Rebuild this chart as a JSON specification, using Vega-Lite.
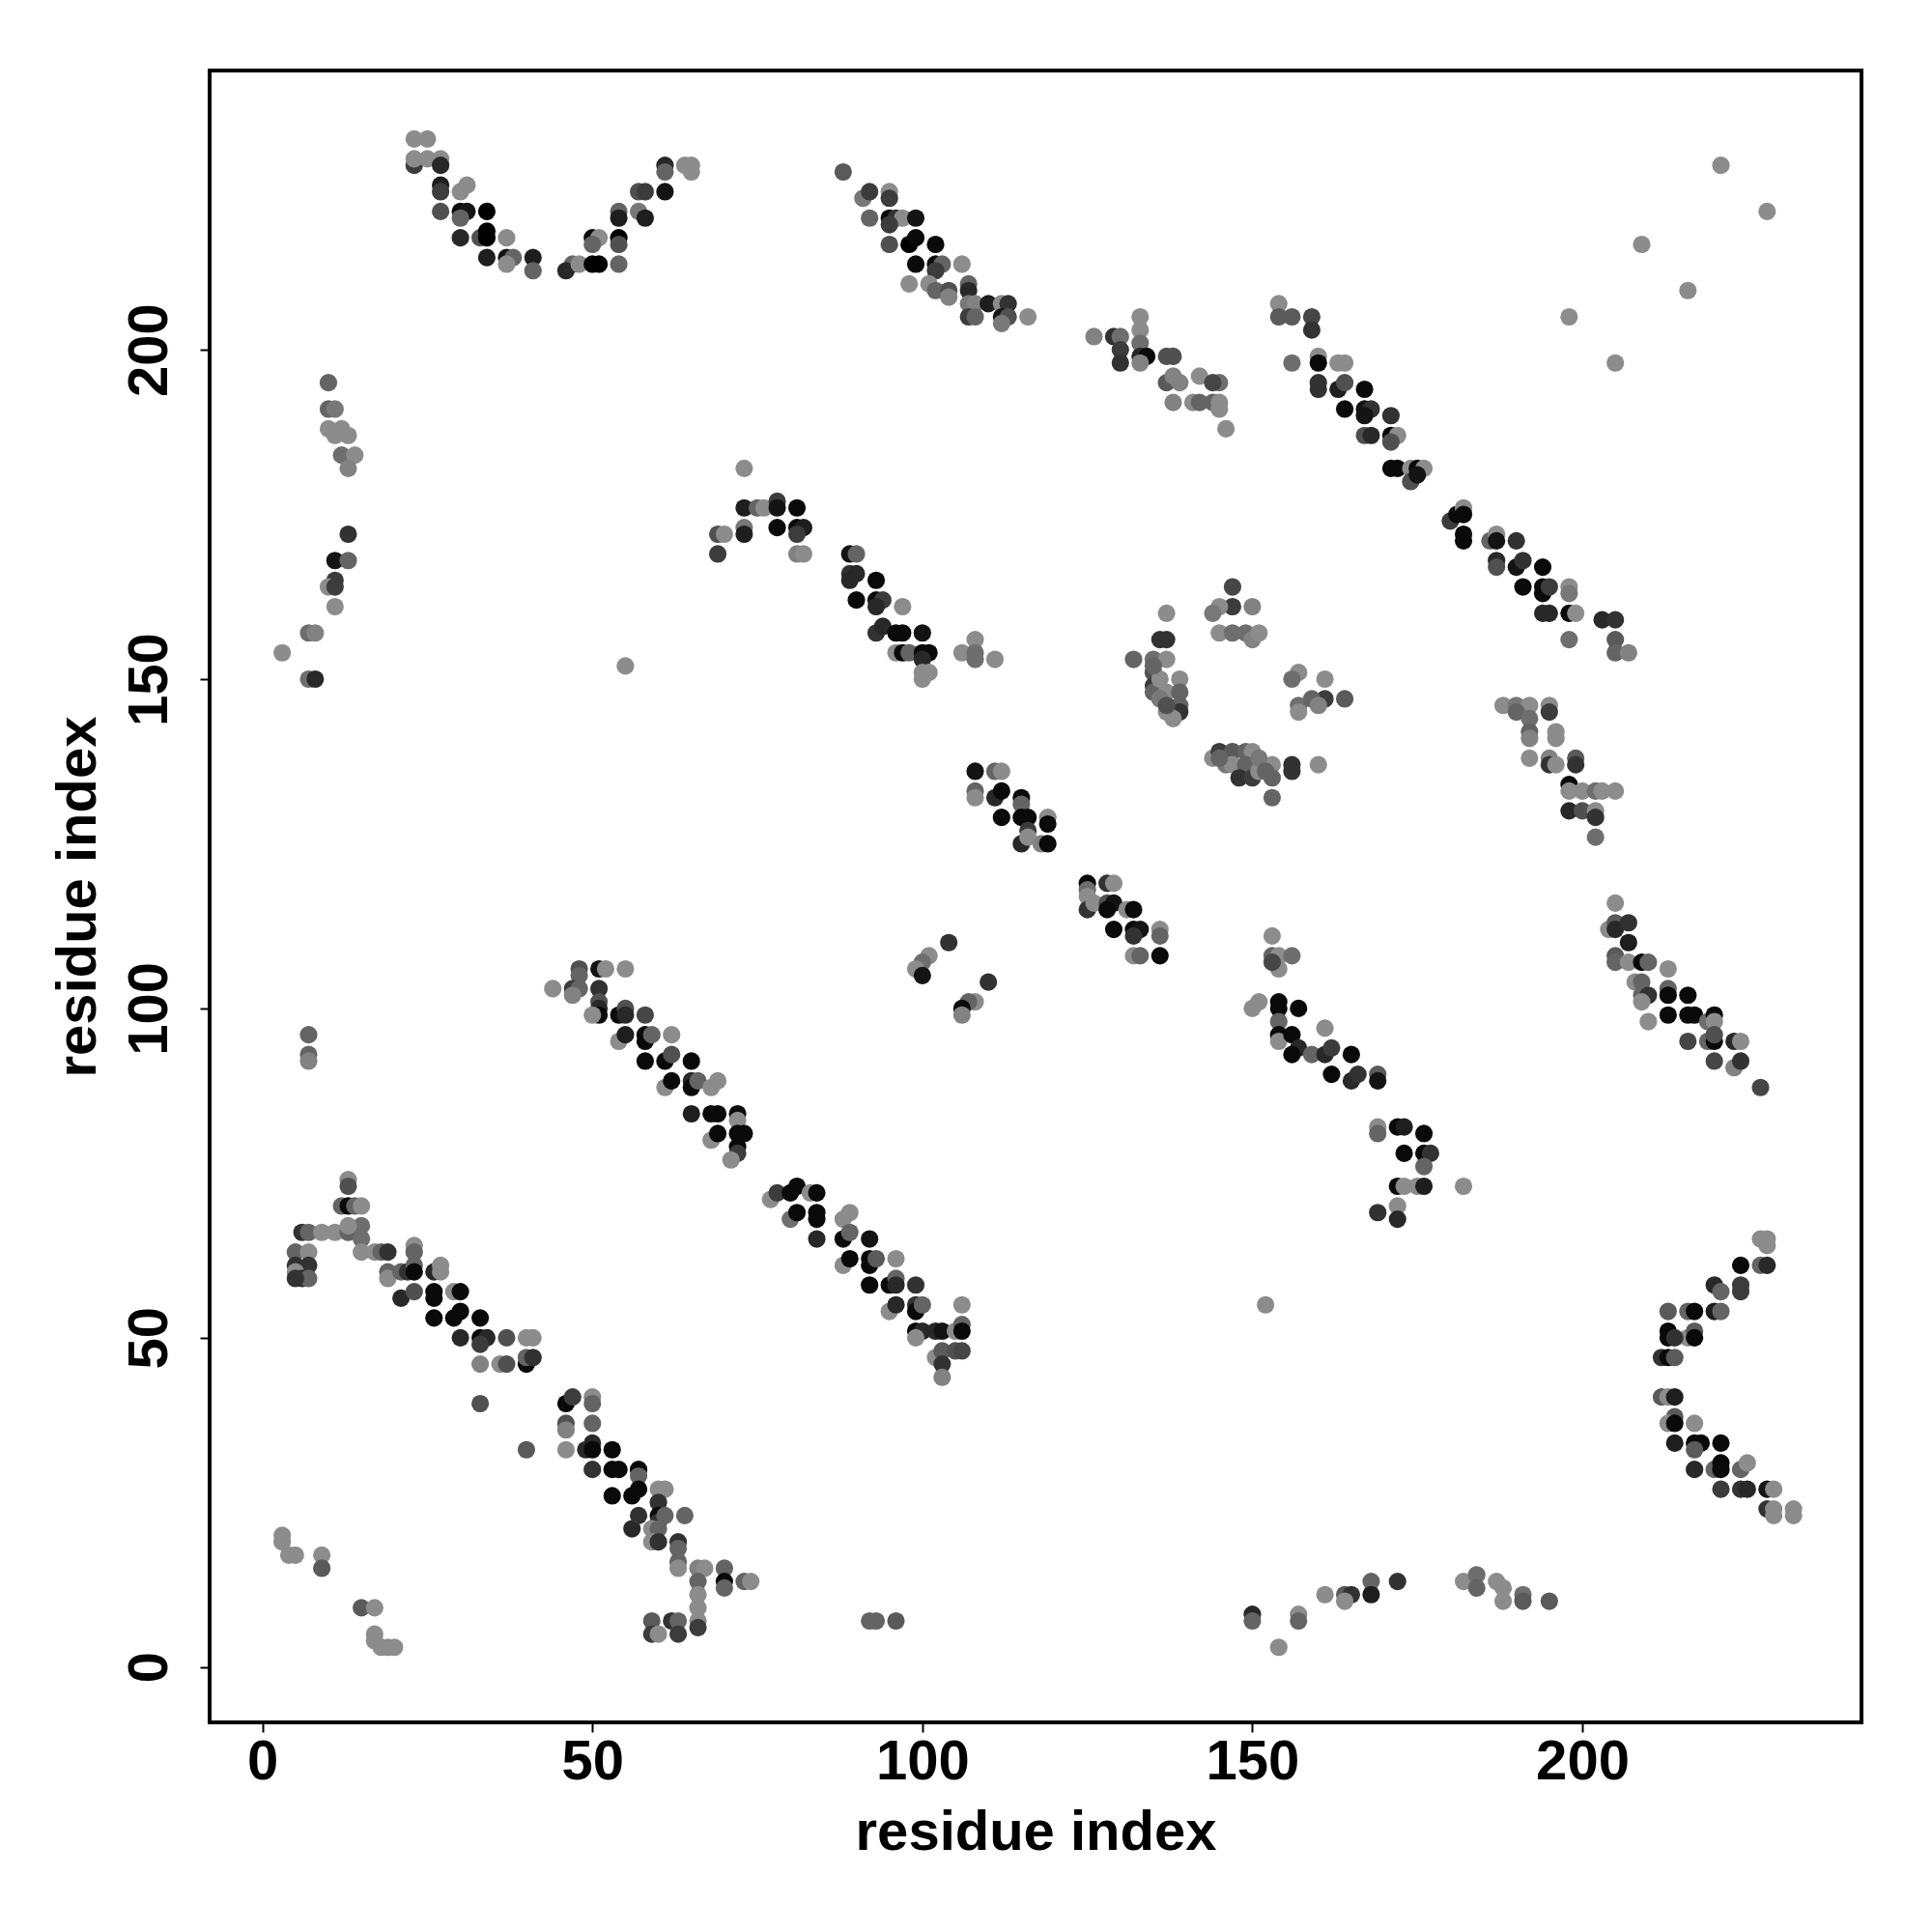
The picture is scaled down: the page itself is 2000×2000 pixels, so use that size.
{
"$schema": "https://vega.github.io/schema/vega-lite/v6.json",
"width": 1710, "height": 1710,
"autosize": {"type": "none"},
"padding": {"left": 217, "top": 73, "right": 73, "bottom": 217},
"background": "white",
"config": {"view": {"stroke": "black", "strokeWidth": 4}, "font": "Liberation Sans"},
"data": {"values": [
{"x":23,"y":232,"p":0.2},{"x":25,"y":232,"p":0.2},{"x":23,"y":228,"p":0.7},{"x":23,"y":229,"p":0.25},{"x":25,"y":229,"p":0.25},{"x":27,"y":229,"p":0.3},{"x":27,"y":228,"p":0.8},
{"x":27,"y":225,"p":0.85},{"x":27,"y":224,"p":0.7},{"x":31,"y":225,"p":0.2},{"x":30,"y":224,"p":0.3},
{"x":27,"y":221,"p":0.6},{"x":30,"y":221,"p":0.95},{"x":31,"y":221,"p":0.9},{"x":34,"y":221,"p":1},{"x":30,"y":220,"p":0.5},
{"x":30,"y":217,"p":0.8},{"x":33,"y":217,"p":0.6},{"x":34,"y":218,"p":1},{"x":34,"y":217,"p":1},{"x":37,"y":217,"p":0.3},
{"x":34,"y":214,"p":0.85},{"x":37,"y":214,"p":0.9},{"x":38,"y":214,"p":0.5},{"x":41,"y":214,"p":0.85},{"x":41,"y":212,"p":0.5},{"x":37,"y":213,"p":0.3},
{"x":47,"y":213,"p":0.5},{"x":46,"y":212,"p":0.8},{"x":48,"y":213,"p":0.3},
{"x":50,"y":217,"p":0.95},{"x":51,"y":217,"p":0.3},{"x":50,"y":216,"p":0.5},{"x":54,"y":217,"p":1},{"x":54,"y":216,"p":0.6},{"x":50,"y":213,"p":1},{"x":51,"y":213,"p":1},{"x":54,"y":213,"p":0.5},
{"x":54,"y":221,"p":0.5},{"x":54,"y":220,"p":0.85},{"x":57,"y":221,"p":0.4},{"x":58,"y":220,"p":0.85},
{"x":57,"y":224,"p":0.6},{"x":58,"y":224,"p":0.7},{"x":61,"y":224,"p":0.9},
{"x":61,"y":228,"p":0.8},{"x":61,"y":227,"p":0.5},{"x":64,"y":228,"p":0.3},{"x":65,"y":228,"p":0.3},{"x":65,"y":227,"p":0.3},
{"x":10,"y":195,"p":0.5},{"x":10,"y":191,"p":0.5},{"x":11,"y":191,"p":0.4},{"x":10,"y":188,"p":0.3},{"x":12,"y":188,"p":0.3},{"x":13,"y":187,"p":0.3},{"x":11,"y":187,"p":0.3},{"x":12,"y":184,"p":0.45},{"x":14,"y":184,"p":0.3},{"x":13,"y":182,"p":0.35},
{"x":13,"y":172,"p":0.75},{"x":11,"y":168,"p":0.9},{"x":13,"y":168,"p":0.5},{"x":11,"y":165,"p":0.7},{"x":10,"y":164,"p":0.3},{"x":11,"y":164,"p":0.7},{"x":11,"y":161,"p":0.3},
{"x":73,"y":182,"p":0.3},{"x":73,"y":176,"p":0.85},{"x":75,"y":176,"p":0.5},{"x":69,"y":172,"p":0.6},{"x":70,"y":172,"p":0.3},{"x":73,"y":173,"p":0.4},{"x":73,"y":172,"p":0.85},{"x":69,"y":169,"p":0.7},
{"x":88,"y":227,"p":0.55},{"x":91,"y":223,"p":0.4},{"x":92,"y":224,"p":0.7},{"x":95,"y":224,"p":0.3},{"x":95,"y":223,"p":0.7},
{"x":92,"y":220,"p":0.5},{"x":95,"y":220,"p":0.95},{"x":96,"y":220,"p":0.75},{"x":97,"y":220,"p":0.3},{"x":99,"y":220,"p":0.9},{"x":95,"y":219,"p":0.7},
{"x":95,"y":216,"p":0.6},{"x":98,"y":216,"p":1},{"x":99,"y":217,"p":0.95},{"x":102,"y":216,"p":0.95},
{"x":99,"y":213,"p":0.95},{"x":102,"y":213,"p":0.95},{"x":103,"y":213,"p":0.5},{"x":106,"y":213,"p":0.3},{"x":102,"y":212,"p":0.7},
{"x":98,"y":210,"p":0.3},{"x":101,"y":210,"p":0.3},{"x":102,"y":209,"p":0.5},{"x":104,"y":209,"p":0.6},{"x":104,"y":208,"p":0.35},
{"x":107,"y":210,"p":0.5},{"x":107,"y":209,"p":0.8},{"x":107,"y":207,"p":0.4},{"x":108,"y":207,"p":0.35},{"x":110,"y":207,"p":0.85},{"x":112,"y":207,"p":0.3},{"x":113,"y":207,"p":0.75},{"x":107,"y":205,"p":0.7},{"x":108,"y":205,"p":0.5},{"x":112,"y":205,"p":0.9},{"x":113,"y":205,"p":0.6},{"x":116,"y":205,"p":0.3},{"x":112,"y":204,"p":0.4},
{"x":126,"y":202,"p":0.35},{"x":129,"y":202,"p":0.75},{"x":130,"y":202,"p":0.45},{"x":130,"y":200,"p":0.7},{"x":130,"y":198,"p":0.75},
{"x":133,"y":205,"p":0.3},{"x":133,"y":203,"p":0.3},{"x":133,"y":201,"p":0.45},{"x":133,"y":199,"p":0.8},{"x":134,"y":199,"p":0.95},{"x":133,"y":198,"p":0.35},
{"x":137,"y":199,"p":0.6},{"x":138,"y":199,"p":0.6},{"x":137,"y":195,"p":0.55},{"x":138,"y":196,"p":0.35},{"x":139,"y":195,"p":0.35},{"x":142,"y":196,"p":0.3},
{"x":138,"y":192,"p":0.35},{"x":141,"y":192,"p":0.3},{"x":142,"y":192,"p":0.5},{"x":144,"y":192,"p":0.5},{"x":145,"y":192,"p":0.3},{"x":145,"y":195,"p":0.45},{"x":144,"y":195,"p":0.65},{"x":145,"y":191,"p":0.3},{"x":146,"y":188,"p":0.3},
{"x":154,"y":207,"p":0.3},{"x":154,"y":205,"p":0.55},{"x":156,"y":205,"p":0.55},{"x":156,"y":198,"p":0.45},
{"x":76,"y":176,"p":0.3},{"x":78,"y":177,"p":0.7},{"x":78,"y":176,"p":0.9},{"x":81,"y":176,"p":0.95},
{"x":78,"y":173,"p":0.95},{"x":81,"y":173,"p":0.95},{"x":82,"y":173,"p":0.85},{"x":81,"y":172,"p":0.7},{"x":81,"y":169,"p":0.35},{"x":82,"y":169,"p":0.3},
{"x":89,"y":169,"p":0.9},{"x":90,"y":169,"p":0.5},{"x":89,"y":166,"p":0.75},{"x":90,"y":166,"p":0.8},{"x":93,"y":165,"p":0.95},{"x":89,"y":165,"p":0.8},
{"x":90,"y":162,"p":0.95},{"x":93,"y":162,"p":0.95},{"x":94,"y":162,"p":0.7},{"x":97,"y":161,"p":0.3},{"x":93,"y":161,"p":0.8},
{"x":147,"y":164,"p":0.65},{"x":137,"y":160,"p":0.3},{"x":147,"y":161,"p":0.7},{"x":145,"y":161,"p":0.3},{"x":144,"y":160,"p":0.4},{"x":150,"y":161,"p":0.35},
{"x":221,"y":228,"p":0.3},{"x":228,"y":221,"p":0.3},{"x":209,"y":216,"p":0.3},{"x":216,"y":209,"p":0.3},{"x":198,"y":205,"p":0.3},{"x":205,"y":198,"p":0.3},
{"x":159,"y":205,"p":0.65},{"x":159,"y":203,"p":0.75},{"x":160,"y":199,"p":0.3},{"x":160,"y":198,"p":0.95},{"x":163,"y":198,"p":0.3},{"x":164,"y":198,"p":0.3},
{"x":160,"y":195,"p":0.75},{"x":160,"y":194,"p":0.75},{"x":163,"y":194,"p":0.85},{"x":164,"y":195,"p":0.6},{"x":167,"y":194,"p":0.95},
{"x":164,"y":191,"p":0.95},{"x":167,"y":191,"p":0.9},{"x":168,"y":191,"p":0.75},{"x":167,"y":190,"p":0.9},{"x":171,"y":190,"p":0.75},
{"x":167,"y":187,"p":0.6},{"x":168,"y":187,"p":0.8},{"x":171,"y":187,"p":0.95},{"x":172,"y":187,"p":0.3},{"x":171,"y":186,"p":0.6},
{"x":171,"y":182,"p":0.95},{"x":172,"y":182,"p":0.95},{"x":174,"y":182,"p":0.3},{"x":175,"y":182,"p":0.95},{"x":176,"y":182,"p":0.3},{"x":174,"y":180,"p":0.6},{"x":175,"y":181,"p":0.9},
{"x":180,"y":174,"p":0.7},{"x":181,"y":175,"p":0.95},{"x":182,"y":176,"p":0.3},{"x":182,"y":175,"p":0.95},{"x":182,"y":172,"p":0.95},{"x":182,"y":171,"p":0.95},
{"x":186,"y":171,"p":0.5},{"x":187,"y":172,"p":0.3},{"x":187,"y":171,"p":0.9},{"x":190,"y":171,"p":0.75},
{"x":187,"y":168,"p":0.8},{"x":187,"y":167,"p":0.6},{"x":190,"y":167,"p":0.9},{"x":191,"y":168,"p":0.75},{"x":194,"y":167,"p":0.95},
{"x":191,"y":164,"p":0.95},{"x":194,"y":164,"p":0.95},{"x":194,"y":163,"p":0.95},{"x":195,"y":164,"p":0.7},{"x":198,"y":164,"p":0.3},{"x":198,"y":163,"p":0.4},
{"x":194,"y":160,"p":0.8},{"x":195,"y":160,"p":0.8},{"x":198,"y":160,"p":0.95},{"x":199,"y":160,"p":0.3},{"x":203,"y":159,"p":0.8},{"x":205,"y":159,"p":0.75},
{"x":7,"y":157,"p":0.45},{"x":8,"y":157,"p":0.35},{"x":3,"y":154,"p":0.3},{"x":7,"y":150,"p":0.45},{"x":8,"y":150,"p":0.8},{"x":55,"y":152,"p":0.3},
{"x":7,"y":96,"p":0.5},{"x":7,"y":93,"p":0.5},{"x":7,"y":92,"p":0.35},
{"x":48,"y":106,"p":0.6},{"x":48,"y":105,"p":0.5},{"x":51,"y":106,"p":0.9},{"x":52,"y":106,"p":0.3},{"x":55,"y":106,"p":0.3},
{"x":44,"y":103,"p":0.3},{"x":47,"y":103,"p":0.7},{"x":48,"y":103,"p":0.5},{"x":47,"y":102,"p":0.35},{"x":51,"y":103,"p":0.75},
{"x":51,"y":101,"p":0.6},{"x":51,"y":100,"p":0.8},{"x":51,"y":99,"p":0.95},{"x":50,"y":99,"p":0.3},{"x":54,"y":99,"p":0.95},{"x":55,"y":100,"p":0.6},{"x":55,"y":99,"p":0.8},{"x":58,"y":99,"p":0.65},
{"x":54,"y":95,"p":0.3},{"x":55,"y":96,"p":0.85},{"x":58,"y":96,"p":0.95},{"x":58,"y":95,"p":0.95},{"x":59,"y":96,"p":0.5},{"x":62,"y":96,"p":0.3},
{"x":58,"y":92,"p":0.95},{"x":61,"y":92,"p":0.95},{"x":62,"y":93,"p":0.6},{"x":65,"y":92,"p":0.95},
{"x":61,"y":88,"p":0.3},{"x":62,"y":89,"p":0.95},{"x":65,"y":89,"p":0.8},{"x":65,"y":88,"p":0.95},{"x":66,"y":89,"p":0.5},{"x":68,"y":88,"p":0.3},{"x":69,"y":89,"p":0.3},
{"x":65,"y":84,"p":0.85},{"x":68,"y":84,"p":0.95},{"x":69,"y":84,"p":0.95},{"x":72,"y":84,"p":0.95},{"x":72,"y":83,"p":0.3},
{"x":68,"y":80,"p":0.3},{"x":69,"y":81,"p":0.95},{"x":72,"y":81,"p":0.95},{"x":73,"y":81,"p":0.95},{"x":72,"y":79,"p":0.95},{"x":72,"y":78,"p":0.7},{"x":71,"y":77,"p":0.3},
{"x":93,"y":157,"p":0.75},{"x":94,"y":158,"p":0.8},{"x":96,"y":157,"p":0.95},{"x":97,"y":157,"p":0.95},{"x":100,"y":157,"p":0.9},
{"x":96,"y":154,"p":0.3},{"x":97,"y":154,"p":0.95},{"x":98,"y":154,"p":0.5},{"x":100,"y":154,"p":0.95},{"x":101,"y":154,"p":0.95},{"x":100,"y":153,"p":0.8},
{"x":100,"y":151,"p":0.3},{"x":101,"y":151,"p":0.3},{"x":100,"y":150,"p":0.3},
{"x":108,"y":156,"p":0.3},{"x":106,"y":154,"p":0.3},{"x":108,"y":154,"p":0.45},{"x":108,"y":153,"p":0.45},{"x":111,"y":153,"p":0.3},
{"x":108,"y":136,"p":0.9},{"x":111,"y":136,"p":0.5},{"x":112,"y":136,"p":0.3},
{"x":108,"y":133,"p":0.5},{"x":108,"y":132,"p":0.3},{"x":111,"y":132,"p":0.8},{"x":112,"y":133,"p":0.95},{"x":115,"y":132,"p":0.95},{"x":115,"y":131,"p":0.5},
{"x":112,"y":129,"p":0.95},{"x":115,"y":129,"p":0.95},{"x":116,"y":129,"p":0.95},{"x":119,"y":129,"p":0.3},{"x":119,"y":128,"p":0.95},{"x":116,"y":127,"p":0.7},
{"x":115,"y":125,"p":0.8},{"x":116,"y":126,"p":0.3},{"x":118,"y":125,"p":0.35},{"x":119,"y":125,"p":0.95},
{"x":125,"y":119,"p":0.95},{"x":128,"y":119,"p":0.75},{"x":129,"y":119,"p":0.3},{"x":125,"y":118,"p":0.45},{"x":125,"y":117,"p":0.3},{"x":125,"y":115,"p":0.75},
{"x":126,"y":116,"p":0.3},{"x":128,"y":116,"p":0.6},{"x":129,"y":116,"p":0.9},{"x":128,"y":115,"p":0.95},{"x":131,"y":115,"p":0.3},{"x":132,"y":115,"p":0.95},
{"x":129,"y":112,"p":0.95},{"x":132,"y":112,"p":0.95},{"x":133,"y":112,"p":0.9},{"x":132,"y":111,"p":0.75},{"x":136,"y":112,"p":0.3},{"x":136,"y":111,"p":0.5},
{"x":132,"y":108,"p":0.3},{"x":133,"y":108,"p":0.5},{"x":136,"y":108,"p":0.95},
{"x":104,"y":110,"p":0.75},{"x":101,"y":108,"p":0.3},{"x":100,"y":107,"p":0.45},{"x":99,"y":106,"p":0.3},{"x":100,"y":105,"p":0.9},
{"x":110,"y":104,"p":0.75},{"x":108,"y":101,"p":0.3},{"x":107,"y":101,"p":0.5},{"x":106,"y":100,"p":0.95},{"x":106,"y":99,"p":0.35},
{"x":153,"y":111,"p":0.3},{"x":153,"y":108,"p":0.5},{"x":154,"y":108,"p":0.3},{"x":156,"y":108,"p":0.45},{"x":154,"y":106,"p":0.3},{"x":153,"y":107,"p":0.65},
{"x":150,"y":100,"p":0.3},{"x":151,"y":101,"p":0.3},{"x":154,"y":101,"p":0.95},{"x":154,"y":100,"p":0.95},{"x":157,"y":100,"p":0.95},{"x":154,"y":98,"p":0.5},{"x":154,"y":96,"p":0.95},{"x":154,"y":95,"p":0.3},{"x":156,"y":96,"p":0.95},{"x":157,"y":94,"p":0.8},{"x":156,"y":93,"p":0.95},
{"x":136,"y":156,"p":0.75},{"x":137,"y":156,"p":0.75},{"x":132,"y":153,"p":0.5},{"x":135,"y":153,"p":0.45},{"x":137,"y":153,"p":0.3},
{"x":135,"y":151,"p":0.6},{"x":135,"y":149,"p":0.7},{"x":135,"y":148,"p":0.5},{"x":136,"y":150,"p":0.3},{"x":137,"y":148,"p":0.3},{"x":139,"y":150,"p":0.3},{"x":139,"y":148,"p":0.5},{"x":139,"y":146,"p":0.5},{"x":139,"y":145,"p":0.75},{"x":137,"y":145,"p":0.3},{"x":138,"y":144,"p":0.3},{"x":135,"y":152,"p":0.5},{"x":136,"y":147,"p":0.4},{"x":137,"y":146,"p":0.6},
{"x":145,"y":157,"p":0.3},{"x":147,"y":157,"p":0.45},{"x":149,"y":157,"p":0.45},{"x":150,"y":156,"p":0.35},{"x":151,"y":157,"p":0.3},
{"x":157,"y":151,"p":0.3},{"x":156,"y":150,"p":0.45},{"x":157,"y":146,"p":0.45},{"x":157,"y":145,"p":0.3},
{"x":144,"y":138,"p":0.3},{"x":145,"y":139,"p":0.7},{"x":147,"y":139,"p":0.55},{"x":149,"y":139,"p":0.5},{"x":150,"y":139,"p":0.3},{"x":146,"y":137,"p":0.4},{"x":147,"y":137,"p":0.3},{"x":149,"y":137,"p":0.5},{"x":148,"y":135,"p":0.75},{"x":150,"y":135,"p":0.7},{"x":151,"y":136,"p":0.3},{"x":153,"y":137,"p":0.3},{"x":153,"y":135,"p":0.5},{"x":156,"y":137,"p":0.75},{"x":156,"y":136,"p":0.75},{"x":153,"y":132,"p":0.5},{"x":145,"y":138,"p":0.5},{"x":151,"y":138,"p":0.4},{"x":152,"y":136,"p":0.5},
{"x":198,"y":156,"p":0.45},{"x":205,"y":156,"p":0.55},{"x":205,"y":154,"p":0.5},{"x":207,"y":154,"p":0.35},
{"x":161,"y":150,"p":0.3},{"x":161,"y":147,"p":0.7},{"x":159,"y":147,"p":0.5},{"x":160,"y":146,"p":0.35},{"x":164,"y":147,"p":0.55},{"x":160,"y":137,"p":0.3},
{"x":188,"y":146,"p":0.3},{"x":190,"y":146,"p":0.4},{"x":192,"y":146,"p":0.3},{"x":195,"y":146,"p":0.3},{"x":195,"y":145,"p":0.7},{"x":190,"y":145,"p":0.5},{"x":192,"y":144,"p":0.45},{"x":192,"y":142,"p":0.5},{"x":192,"y":141,"p":0.35},{"x":196,"y":142,"p":0.3},{"x":196,"y":141,"p":0.3},{"x":192,"y":138,"p":0.3},{"x":195,"y":138,"p":0.35},{"x":195,"y":137,"p":0.75},{"x":196,"y":137,"p":0.3},{"x":199,"y":138,"p":0.55},{"x":199,"y":137,"p":0.75},{"x":198,"y":134,"p":0.95},{"x":198,"y":133,"p":0.3},{"x":200,"y":133,"p":0.3},{"x":202,"y":133,"p":0.45},{"x":203,"y":133,"p":0.3},{"x":205,"y":133,"p":0.3},{"x":198,"y":130,"p":0.8},{"x":200,"y":130,"p":0.6},{"x":202,"y":130,"p":0.3},{"x":202,"y":129,"p":0.75},{"x":202,"y":126,"p":0.45},
{"x":205,"y":116,"p":0.3},{"x":204,"y":112,"p":0.3},{"x":205,"y":113,"p":0.55},{"x":205,"y":112,"p":0.8},{"x":207,"y":113,"p":0.75},{"x":207,"y":110,"p":0.85},
{"x":205,"y":108,"p":0.55},{"x":205,"y":107,"p":0.5},{"x":207,"y":107,"p":0.3},{"x":209,"y":107,"p":0.95},{"x":210,"y":107,"p":0.5},{"x":213,"y":106,"p":0.3},
{"x":208,"y":104,"p":0.3},{"x":209,"y":104,"p":0.5},{"x":209,"y":102,"p":0.5},{"x":210,"y":102,"p":0.75},{"x":213,"y":103,"p":0.5},{"x":213,"y":102,"p":0.95},{"x":216,"y":102,"p":0.95},{"x":209,"y":101,"p":0.3},{"x":210,"y":98,"p":0.3},{"x":213,"y":99,"p":0.95},{"x":216,"y":99,"p":0.95},{"x":217,"y":99,"p":0.95},{"x":219,"y":98,"p":0.45},{"x":220,"y":99,"p":0.95},{"x":220,"y":98,"p":0.3},
{"x":216,"y":95,"p":0.65},{"x":219,"y":95,"p":0.5},{"x":220,"y":95,"p":0.95},{"x":220,"y":96,"p":0.6},{"x":223,"y":95,"p":0.8},{"x":224,"y":95,"p":0.3},{"x":220,"y":92,"p":0.65},{"x":223,"y":91,"p":0.35},{"x":224,"y":92,"p":0.75},{"x":227,"y":88,"p":0.65},
{"x":161,"y":97,"p":0.3},{"x":159,"y":93,"p":0.5},{"x":161,"y":93,"p":0.8},{"x":162,"y":94,"p":0.7},{"x":165,"y":93,"p":0.95},
{"x":162,"y":90,"p":0.95},{"x":165,"y":89,"p":0.8},{"x":166,"y":90,"p":0.75},{"x":169,"y":90,"p":0.55},{"x":169,"y":89,"p":0.9},
{"x":169,"y":82,"p":0.3},{"x":169,"y":81,"p":0.5},{"x":172,"y":82,"p":0.95},{"x":173,"y":82,"p":0.85},{"x":176,"y":81,"p":0.95},{"x":173,"y":78,"p":0.95},{"x":176,"y":78,"p":0.95},{"x":177,"y":78,"p":0.75},{"x":176,"y":76,"p":0.5},
{"x":13,"y":74,"p":0.3},{"x":13,"y":73,"p":0.6},{"x":12,"y":70,"p":0.5},{"x":13,"y":70,"p":0.95},{"x":14,"y":70,"p":0.5},{"x":15,"y":70,"p":0.3},
{"x":6,"y":66,"p":0.75},{"x":7,"y":66,"p":0.5},{"x":9,"y":66,"p":0.3},{"x":11,"y":66,"p":0.3},{"x":13,"y":66,"p":0.5},{"x":15,"y":67,"p":0.45},{"x":15,"y":65,"p":0.45},{"x":13,"y":67,"p":0.3},
{"x":5,"y":63,"p":0.5},{"x":7,"y":63,"p":0.3},{"x":5,"y":61,"p":0.75},{"x":7,"y":61,"p":0.75},{"x":5,"y":60,"p":0.3},{"x":6,"y":59,"p":0.75},{"x":7,"y":59,"p":0.5},{"x":5,"y":59,"p":0.75},
{"x":15,"y":63,"p":0.3},{"x":17,"y":63,"p":0.3},{"x":18,"y":63,"p":0.5},{"x":19,"y":63,"p":0.75},
{"x":19,"y":60,"p":0.5},{"x":19,"y":59,"p":0.3},{"x":21,"y":60,"p":0.5},{"x":22,"y":60,"p":0.75},{"x":23,"y":64,"p":0.3},{"x":23,"y":63,"p":0.5},{"x":23,"y":61,"p":0.5},{"x":23,"y":60,"p":0.95},{"x":26,"y":60,"p":0.8},{"x":27,"y":61,"p":0.3},{"x":27,"y":60,"p":0.3},
{"x":21,"y":56,"p":0.8},{"x":23,"y":57,"p":0.6},{"x":26,"y":57,"p":0.95},{"x":26,"y":56,"p":0.95},{"x":29,"y":57,"p":0.3},{"x":30,"y":57,"p":0.95},
{"x":26,"y":53,"p":0.95},{"x":29,"y":53,"p":0.95},{"x":30,"y":54,"p":0.95},{"x":33,"y":53,"p":0.95},
{"x":30,"y":50,"p":0.8},{"x":33,"y":50,"p":0.95},{"x":34,"y":50,"p":0.8},{"x":37,"y":50,"p":0.6},{"x":40,"y":50,"p":0.3},{"x":41,"y":50,"p":0.3},{"x":33,"y":49,"p":0.7},
{"x":33,"y":46,"p":0.35},{"x":36,"y":46,"p":0.3},{"x":37,"y":46,"p":0.6},{"x":40,"y":46,"p":0.95},{"x":40,"y":47,"p":0.5},{"x":41,"y":47,"p":0.75},
{"x":33,"y":40,"p":0.6},{"x":40,"y":33,"p":0.55},
{"x":46,"y":40,"p":0.95},{"x":47,"y":41,"p":0.7},{"x":50,"y":41,"p":0.3},{"x":50,"y":40,"p":0.5},{"x":46,"y":37,"p":0.6},{"x":46,"y":36,"p":0.35},{"x":50,"y":37,"p":0.5},
{"x":46,"y":33,"p":0.3},{"x":49,"y":33,"p":0.8},{"x":50,"y":34,"p":0.8},{"x":53,"y":33,"p":0.95},{"x":50,"y":33,"p":0.95},
{"x":50,"y":30,"p":0.75},{"x":53,"y":30,"p":0.95},{"x":54,"y":30,"p":0.95},{"x":57,"y":30,"p":0.95},{"x":57,"y":29,"p":0.5},
{"x":53,"y":26,"p":0.95},{"x":56,"y":26,"p":0.95},{"x":57,"y":27,"p":0.95},{"x":60,"y":27,"p":0.3},{"x":61,"y":27,"p":0.3},{"x":60,"y":25,"p":0.75},
{"x":56,"y":21,"p":0.8},{"x":57,"y":23,"p":0.75},{"x":60,"y":23,"p":0.95},{"x":60,"y":22,"p":0.75},{"x":61,"y":23,"p":0.5},{"x":64,"y":23,"p":0.5},{"x":59,"y":21,"p":0.3},{"x":60,"y":21,"p":0.5},{"x":59,"y":19,"p":0.3},{"x":60,"y":19,"p":0.75},{"x":63,"y":19,"p":0.75},{"x":63,"y":18,"p":0.5},{"x":63,"y":16,"p":0.5},{"x":63,"y":15,"p":0.3},
{"x":66,"y":15,"p":0.35},{"x":67,"y":15,"p":0.3},{"x":70,"y":15,"p":0.5},{"x":70,"y":13,"p":0.95},{"x":70,"y":12,"p":0.5},{"x":66,"y":13,"p":0.5},{"x":66,"y":11,"p":0.3},{"x":66,"y":9,"p":0.3},{"x":66,"y":7,"p":0.3},{"x":66,"y":6,"p":0.7},{"x":73,"y":13,"p":0.5},{"x":74,"y":13,"p":0.3},
{"x":59,"y":7,"p":0.55},{"x":59,"y":5,"p":0.7},{"x":60,"y":5,"p":0.3},{"x":62,"y":7,"p":0.75},{"x":63,"y":7,"p":0.5},{"x":63,"y":5,"p":0.7},
{"x":3,"y":20,"p":0.3},{"x":3,"y":19,"p":0.3},{"x":4,"y":17,"p":0.3},{"x":5,"y":17,"p":0.3},{"x":9,"y":17,"p":0.3},{"x":9,"y":15,"p":0.55},
{"x":15,"y":9,"p":0.55},{"x":17,"y":9,"p":0.3},{"x":17,"y":5,"p":0.3},{"x":18,"y":3,"p":0.3},{"x":19,"y":3,"p":0.3},{"x":20,"y":3,"p":0.3},{"x":17,"y":4,"p":0.3},
{"x":77,"y":71,"p":0.3},{"x":78,"y":72,"p":0.7},{"x":80,"y":72,"p":0.95},{"x":81,"y":73,"p":0.95},{"x":83,"y":72,"p":0.3},{"x":84,"y":72,"p":0.95},
{"x":80,"y":68,"p":0.45},{"x":81,"y":69,"p":0.95},{"x":84,"y":69,"p":0.95},{"x":84,"y":68,"p":0.95},{"x":88,"y":68,"p":0.3},{"x":89,"y":69,"p":0.3},
{"x":84,"y":65,"p":0.8},{"x":88,"y":65,"p":0.95},{"x":89,"y":66,"p":0.5},{"x":92,"y":65,"p":0.9},{"x":88,"y":61,"p":0.3},{"x":89,"y":62,"p":0.95},{"x":92,"y":62,"p":0.95},{"x":92,"y":61,"p":0.95},{"x":93,"y":62,"p":0.55},{"x":96,"y":62,"p":0.3},
{"x":92,"y":58,"p":0.95},{"x":95,"y":58,"p":0.95},{"x":96,"y":59,"p":0.5},{"x":96,"y":58,"p":0.8},{"x":99,"y":58,"p":0.75},
{"x":95,"y":54,"p":0.3},{"x":96,"y":55,"p":0.8},{"x":99,"y":55,"p":0.75},{"x":99,"y":54,"p":0.95},{"x":100,"y":55,"p":0.5},{"x":106,"y":55,"p":0.3},
{"x":99,"y":51,"p":0.95},{"x":100,"y":51,"p":0.8},{"x":99,"y":50,"p":0.3},{"x":102,"y":51,"p":0.8},{"x":103,"y":51,"p":0.9},{"x":105,"y":51,"p":0.3},{"x":106,"y":52,"p":0.5},{"x":106,"y":51,"p":0.95},
{"x":102,"y":47,"p":0.3},{"x":103,"y":48,"p":0.55},{"x":103,"y":46,"p":0.75},{"x":105,"y":48,"p":0.6},{"x":106,"y":48,"p":0.65},{"x":103,"y":44,"p":0.35},
{"x":152,"y":55,"p":0.3},{"x":92,"y":7,"p":0.5},{"x":93,"y":7,"p":0.5},{"x":96,"y":7,"p":0.55},
{"x":150,"y":8,"p":0.8},{"x":150,"y":7,"p":0.5},{"x":157,"y":8,"p":0.3},{"x":157,"y":7,"p":0.5},{"x":154,"y":3,"p":0.3},
{"x":172,"y":73,"p":0.95},{"x":173,"y":73,"p":0.3},{"x":175,"y":73,"p":0.3},{"x":176,"y":73,"p":0.85},{"x":182,"y":73,"p":0.3},
{"x":169,"y":69,"p":0.75},{"x":172,"y":70,"p":0.3},{"x":172,"y":68,"p":0.8},
{"x":227,"y":65,"p":0.3},{"x":228,"y":65,"p":0.3},{"x":228,"y":64,"p":0.3},
{"x":224,"y":61,"p":0.95},{"x":227,"y":61,"p":0.5},{"x":228,"y":61,"p":0.8},
{"x":220,"y":58,"p":0.8},{"x":221,"y":57,"p":0.5},{"x":224,"y":58,"p":0.7},{"x":224,"y":57,"p":0.7},
{"x":213,"y":54,"p":0.55},{"x":216,"y":54,"p":0.5},{"x":217,"y":54,"p":0.95},{"x":220,"y":54,"p":0.85},{"x":221,"y":54,"p":0.5},
{"x":213,"y":51,"p":0.95},{"x":213,"y":50,"p":0.95},{"x":216,"y":50,"p":0.3},{"x":217,"y":51,"p":0.55},{"x":217,"y":50,"p":0.95},{"x":214,"y":50,"p":0.75},
{"x":212,"y":47,"p":0.75},{"x":213,"y":47,"p":0.95},{"x":214,"y":47,"p":0.55},
{"x":212,"y":41,"p":0.55},{"x":213,"y":41,"p":0.3},{"x":214,"y":41,"p":0.85},{"x":214,"y":38,"p":0.55},{"x":213,"y":37,"p":0.3},{"x":214,"y":37,"p":0.95},{"x":217,"y":37,"p":0.3},
{"x":214,"y":34,"p":0.85},{"x":217,"y":34,"p":0.95},{"x":218,"y":34,"p":0.95},{"x":217,"y":33,"p":0.55},{"x":221,"y":34,"p":0.95},
{"x":217,"y":30,"p":0.8},{"x":220,"y":30,"p":0.5},{"x":221,"y":31,"p":0.95},{"x":221,"y":30,"p":0.95},{"x":224,"y":30,"p":0.5},{"x":225,"y":31,"p":0.3},
{"x":221,"y":27,"p":0.7},{"x":224,"y":27,"p":0.75},{"x":225,"y":27,"p":0.8},{"x":228,"y":27,"p":0.9},{"x":229,"y":27,"p":0.3},
{"x":228,"y":24,"p":0.75},{"x":229,"y":24,"p":0.3},{"x":229,"y":23,"p":0.3},{"x":232,"y":24,"p":0.3},{"x":232,"y":23,"p":0.3},
{"x":161,"y":11,"p":0.3},{"x":164,"y":11,"p":0.55},{"x":165,"y":11,"p":0.75},{"x":164,"y":10,"p":0.3},{"x":168,"y":13,"p":0.5},{"x":168,"y":11,"p":0.85},{"x":172,"y":13,"p":0.75},
{"x":182,"y":13,"p":0.3},{"x":184,"y":14,"p":0.45},{"x":184,"y":12,"p":0.5},{"x":187,"y":13,"p":0.3},{"x":188,"y":12,"p":0.3},{"x":188,"y":10,"p":0.3},{"x":191,"y":11,"p":0.45},{"x":191,"y":10,"p":0.55},{"x":195,"y":10,"p":0.55}
]},
"mark": {"type": "circle", "size": 330, "opacity": 1},
"encoding": {
  "x": {"field": "x", "type": "quantitative",
        "scale": {"domain": [-8, 242.3], "nice": false, "zero": false},
        "axis": {"title": "residue index", "values": [0, 50, 100, 150, 200], "grid": false, "domain": false,
                 "ticks": true, "tickColor": "black", "tickSize": 10, "tickWidth": 2,
                 "labelFont": "Liberation Sans", "labelFontSize": 58, "labelFontWeight": "bold", "labelColor": "black",
                 "labelPadding": 2, "labelFlush": false, "labelOverlap": false,
                 "titleFont": "Liberation Sans", "titleFontSize": 58, "titleFontWeight": "bold", "titleColor": "black",
                 "titleY": 131, "titleBaseline": "alphabetic"}},
  "y": {"field": "y", "type": "quantitative",
        "scale": {"domain": [-8.4, 242.4], "nice": false, "zero": false},
        "axis": {"title": "residue index", "values": [0, 50, 100, 150, 200], "grid": false, "domain": false,
                 "ticks": true, "tickColor": "black", "tickSize": 10, "tickWidth": 2,
                 "labelFont": "Liberation Sans", "labelFontSize": 58, "labelFontWeight": "bold", "labelColor": "black",
                 "labelAngle": 270, "labelAlign": "center", "labelBaseline": "alphabetic", "labelPadding": 35,
                 "labelFlush": false, "labelOverlap": false,
                 "titleFont": "Liberation Sans", "titleFontSize": 58, "titleFontWeight": "bold", "titleColor": "black",
                 "titleAngle": 270, "titleX": -119, "titleBaseline": "alphabetic"}},
  "color": {"field": "p", "type": "quantitative",
            "scale": {"domain": [0.3, 1], "range": ["#8c8c8c", "#000000"], "clamp": true, "interpolate": "rgb"},
            "legend": null}
}
}
